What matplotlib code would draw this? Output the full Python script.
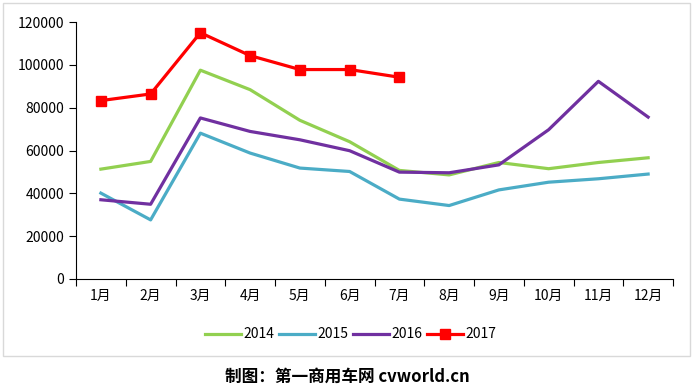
import matplotlib
matplotlib.use("Agg")
import matplotlib.pyplot as plt
from matplotlib.patches import Rectangle
import numpy as np

plt.rcParams['font.family'] = ['Noto Sans CJK SC', 'DejaVu Sans']

# monthly sales
months = ['1月', '2月', '3月', '4月', '5月', '6月', '7月', '8月', '9月', '10月', '11月', '12月']
sales_2014 = [51300, 54900, 97500, 88400, 74100, 64100, 50700, 48600, 54400, 51500, 54400, 56600]
sales_2015 = [40100, 27600, 68100, 58800, 51800, 50200, 37300, 34300, 41600, 45200, 46800, 49000]
sales_2016 = [37000, 34900, 75200, 68900, 65000, 59900, 49900, 49600, 53300, 69700, 92300, 75600]
sales_2017 = [83300, 86400, 115000, 104300, 97800, 97800, 94200]
yticks = [0, 20000, 40000, 60000, 80000, 100000, 120000]

fig = plt.figure(figsize=(6.95, 3.89), dpi=100)

# outer chart frame
fig.patches.append(Rectangle((3 / 695, 1 - 356 / 389), 687 / 695, 353 / 389,
                             transform=fig.transFigure, fill=False,
                             edgecolor='#d9d9d9', linewidth=1))

ax = fig.add_axes([76 / 695, 110 / 389, 597 / 695, 257 / 389])
x = np.arange(len(months))

ax.plot(x, sales_2014, color='#92D050', linewidth=2.3, label='2014')
ax.plot(x, sales_2015, color='#4BACC6', linewidth=2.3, label='2015')
ax.plot(x, sales_2016, color='#7030A0', linewidth=2.3, label='2016')
ax.plot(x[:len(sales_2017)], sales_2017, color='#FF0000', linewidth=2.3,
        marker='s', markersize=7, label='2017')

ax.set_ylim(0, 120000)
ax.set_yticks(yticks)
ax.set_yticklabels([str(v) for v in yticks], fontsize=10)
ax.set_xlim(-0.5, len(months) - 0.5)
ax.set_xticks(np.arange(-0.5, len(months), 1.0))
ax.set_xticklabels([])
ax.set_xticks(x, minor=True)
ax.set_xticklabels(months, minor=True, fontsize=10)
ax.tick_params(axis='x', which='major', length=5, direction='out')
ax.tick_params(axis='x', which='minor', length=0, pad=7)
ax.tick_params(axis='y', length=5, direction='out')

for side in ['top', 'right']:
    ax.spines[side].set_visible(False)

ax.legend(loc='upper center', bbox_to_anchor=(0.46, -0.14), ncol=4, frameon=False,
          fontsize=10, handlelength=2.6, handletextpad=0.2, columnspacing=0.3)

fig.text(0.5, 1 - 377 / 389, '制图：第一商用车网 cvworld.cn', ha='center', va='center',
         fontsize=12, fontweight='bold')

fig.savefig('out.png', dpi=100)
